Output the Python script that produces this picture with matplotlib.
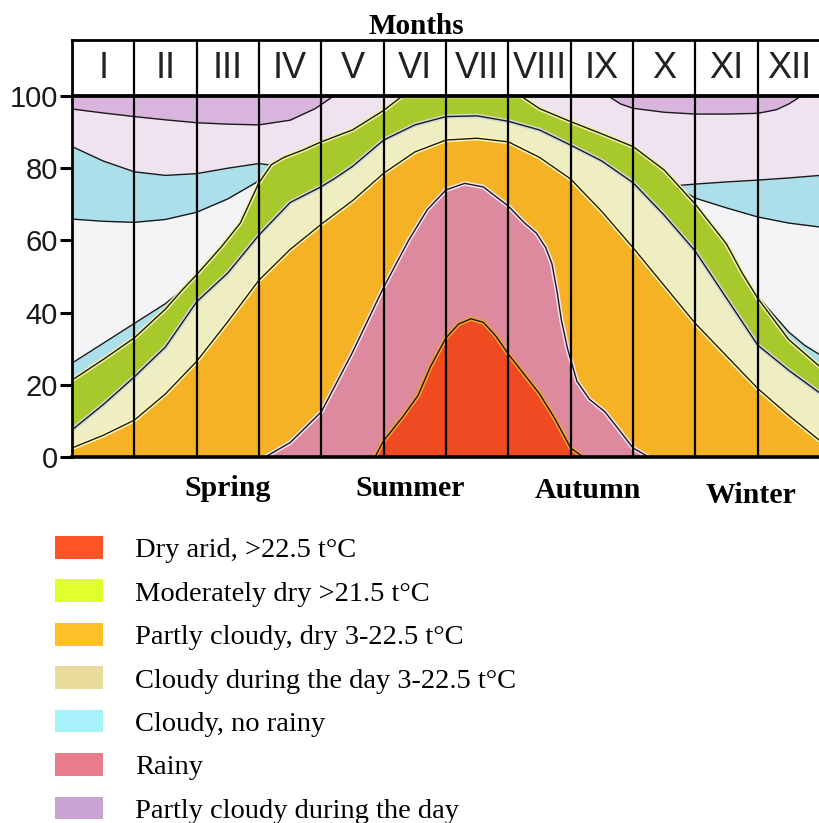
import numpy as np
import matplotlib
matplotlib.use('Agg')
import matplotlib.pyplot as plt
from matplotlib.patches import Patch
import matplotlib.transforms as mtransforms

months = ['I', 'II', 'III', 'IV', 'V', 'VI', 'VII', 'VIII', 'IX', 'X', 'XI', 'XII']
seasons = ['Spring', 'Summer', 'Autumn', 'Winter']
season_x = [2.5, 5.43, 8.28, 10.9]
season_dy = [0, 0, -0.006, -0.02]

# upper boundary of each zone (% of time)
red_x = [4.86, 5.0, 5.3, 5.55, 5.75, 6.0, 6.2, 6.4, 6.6, 6.8, 7.0, 7.25, 7.5, 7.75, 8.0, 8.2]
red_y = [0, 4.5, 11, 17, 25, 33, 36.8, 38.3, 37.3, 33.5, 28.5, 23, 17.5, 10.5, 2.5, 0]

pink_x = [3.1, 3.5, 4.0, 4.5, 5.0, 5.4, 5.7, 6.0, 6.3, 6.6, 7.0, 7.25, 7.45, 7.6, 7.7, 7.78,
          7.85, 7.95, 8.1, 8.3, 8.55, 8.8, 9.0, 9.25]
pink_y = [0, 4, 12.5, 29, 47, 60, 68.5, 74, 75.8, 74.8, 69.5, 65, 62, 58, 53.5, 46,
          38, 30, 21, 16, 12.5, 7, 2.5, 0]

orange_x = [0, 0.5, 1, 1.5, 2, 2.5, 3, 3.5, 4, 4.5, 5, 5.5, 6, 6.5, 7, 7.5, 8, 8.5,
            9, 9.5, 10, 10.5, 11, 11.5, 12]
orange_y = [2.5, 6, 10.2, 17.5, 26.5, 37.5, 49, 57.5, 64.5, 71, 78.6, 84.5, 87.8, 88.3,
            87.3, 83, 77, 68, 58, 47.5, 37, 28, 19, 11.5, 4.5]

pale_x = [0, 0.5, 1, 1.5, 2, 2.5, 3, 3.5, 4, 4.2, 4.5, 5, 5.5, 6, 6.5, 7, 7.5, 8,
          8.5, 9, 9.5, 10, 10.5, 11, 11.5, 12]
pale_y = [7.5, 14.5, 22.2, 30.5, 43, 51, 61.5, 70.5, 74.9, 77, 80.5, 87.8, 92, 94.3,
          94.5, 93, 90.6, 86.4, 82, 76, 67, 57, 44, 31, 24, 17.7]

green_x = [0, 0.5, 1, 1.5, 1.77, 2, 2.4, 2.7, 3, 3.2, 3.4, 3.7, 4, 4.5, 5, 5.3, 6, 7, 7.2,
           7.5, 8, 8.5, 9, 9.5, 10, 10.5, 10.75, 11, 11.5, 12]
green_y = [21.3, 27, 33, 41, 46.3, 50.5, 58.3, 64.8, 76, 81, 83, 85, 87.3, 90.6, 96, 100,
           100, 100, 100, 96.5, 92.9, 89.5, 86, 79.5, 70, 59, 51, 44, 32.5, 25]

# cloudy, no rainy: two thin wedges low and two bands high
blue_lo_left_x = [0, 0.5, 1, 1.5, 1.77]
blue_lo_left_y = [26, 31.5, 37, 42.5, 46.3]
blue_lo_right_x = [10.95, 11.25, 11.5, 11.75, 12]
blue_lo_right_y = [45.5, 39.5, 34.6, 31, 28.3]

blue_hi_left_x = [0, 0.5, 1, 1.5, 2, 2.5, 3, 3.2]
blue_hi_left_top = [86, 82, 79, 78, 78.5, 80, 81.3, 80.8]
blue_hi_left_bot = [65.9, 65.3, 65, 65.8, 67.8, 71.5, 76.5, 80.8]
blue_hi_right_x = [9.72, 10, 10.5, 11, 11.5, 12]
blue_hi_right_top = [75.2, 75.6, 76.2, 76.7, 77.3, 78]
blue_hi_right_bot = [74.5, 71.7, 69, 66.5, 64.8, 63.7]

# partly cloudy during the day: band under the top edge
purple_left_x = [0, 0.5, 1, 1.5, 2, 2.5, 3, 3.5, 3.9, 4.2]
purple_left_y = [96.4, 95.3, 94.3, 93.4, 92.6, 92.2, 92, 93.3, 96.5, 100]
purple_right_x = [8.6, 8.8, 9, 9.5, 10, 10.5, 11, 11.3, 11.5, 11.7]
purple_right_y = [100, 97.8, 96.6, 95.5, 95, 95, 95.2, 96.2, 97.8, 100]

legend_labels = ['Dry arid, >22.5 t°C', 'Moderately dry >21.5 t°C', 'Partly cloudy, dry 3-22.5 t°C',
                 'Cloudy during the day 3-22.5 t°C', 'Cloudy, no rainy', 'Rainy',
                 'Partly cloudy during the day']
legend_colors = ['#FF5526', '#E1FF2B', '#FFC125', '#E8DB9C', '#A6F1FA', '#E87C8D', '#C9A2D3']

c_red = '#F04A22'
c_pink = '#DE8A9E'
c_orange = '#F4B224'
c_pale = '#EFEDC2'
c_green = '#A8C92C'
c_blue = '#ABE0EA'
c_purple = '#D9B5DD'
c_lav = '#EEE3EF'
c_white = '#F4F4F7'

serif = 'Liberation Serif'
sans = 'Liberation Sans'

fig = plt.figure(figsize=(8.2, 8.23), dpi=100)
ax = fig.add_axes([72 / 820, 1 - 457 / 823, 748 / 820, 361 / 823])
ax.set_facecolor(c_lav)
ax.set_xlim(0, 12)
ax.set_ylim(0, 100)

# background zones
ax.fill_between(blue_hi_left_x, 0, blue_hi_left_bot, color=c_white, lw=0)
ax.fill_between(blue_hi_right_x, 0, blue_hi_right_bot, color=c_white, lw=0)
ax.fill_between(blue_hi_left_x, blue_hi_left_bot, blue_hi_left_top, color=c_blue, lw=0)
ax.fill_between(blue_hi_right_x, blue_hi_right_bot, blue_hi_right_top, color=c_blue, lw=0)
ax.fill_between(purple_left_x, purple_left_y, 100, color=c_purple, lw=0)
ax.fill_between(purple_right_x, purple_right_y, 100, color=c_purple, lw=0)
ax.fill_between(blue_lo_left_x, 0, blue_lo_left_y, color=c_blue, lw=0)
ax.fill_between(blue_lo_right_x, 0, blue_lo_right_y, color=c_blue, lw=0)

# nested zones, outer first
ax.fill_between(green_x, 0, green_y, color=c_green, lw=0)
ax.fill_between(pale_x, 0, pale_y, color=c_pale, lw=0)
ax.fill_between(orange_x, 0, orange_y, color=c_orange, lw=0)
ax.fill_between(pink_x, 0, pink_y, color=c_pink, lw=0)
ax.fill_between(red_x, 0, red_y, color=c_red, lw=0)

# outlines
thin = [(purple_left_x, purple_left_y), (purple_right_x, purple_right_y),
        (blue_hi_left_x, blue_hi_left_top), (blue_hi_left_x, blue_hi_left_bot),
        (blue_hi_right_x, blue_hi_right_top), (blue_hi_right_x, blue_hi_right_bot),
        (blue_lo_left_x, blue_lo_left_y), (blue_lo_right_x, blue_lo_right_y)]
for xs, ys in thin:
    ax.plot(xs, ys, color='#1a1a1a', lw=1.0, zorder=3)

haloed = [(green_x, green_y, '#F2F2A0'), (pale_x, pale_y, '#D0D8D8'),
          (orange_x, orange_y, '#FFF8B0'), (pink_x, pink_y, '#F6E0F0'), (red_x, red_y, '#F5A030')]
for xs, ys, hc in haloed:
    ax.plot(xs, ys, color=hc, lw=3.2, zorder=3, solid_capstyle='butt')
    ax.plot(xs, ys, color='#1a1a1a', lw=1.0, zorder=4)

ax.vlines(np.arange(1, 12), 0, 100, color='black', lw=1.6, zorder=5)

ax.spines['right'].set_visible(False)
ax.spines['left'].set_linewidth(2)
ax.spines['top'].set_linewidth(2)
ax.spines['bottom'].set_linewidth(2.6)
for s in ax.spines.values():
    s.set_zorder(6)

ax.set_xticks([])
ax.set_yticks([0, 20, 40, 60, 80, 100])
ax.tick_params(axis='y', length=9, width=2.2, pad=1, labelsize=21, labelcolor='#1a1a1a')
for lab in ax.get_yticklabels():
    lab.set_family(sans)

trans = mtransforms.blended_transform_factory(ax.transData, ax.transAxes)
for sx, name, dy in zip(season_x, seasons, season_dy):
    ax.text(sx, -0.086 + dy, name, transform=trans, ha='center', va='center',
            family=serif, fontweight='bold', fontsize=21.5)

# month header row
hx = fig.add_axes([72 / 820, 1 - 95 / 823, 748 / 820, 55 / 823])
hx.set_xlim(0, 12)
hx.set_ylim(0, 1)
hx.set_xticks([])
hx.set_yticks([])
hx.spines['right'].set_visible(False)
for s in ['top', 'left', 'bottom']:
    hx.spines[s].set_linewidth(2)
hx.vlines(np.arange(1, 12), 0, 1, color='black', lw=1.6)
for i, m in enumerate(months):
    hx.text(i + 0.5, 0.48, m, ha='center', va='center', family=sans, fontsize=26, color='#222222')

fig.text(416 / 820, 1 - 26 / 823, 'Months', ha='center', va='center',
         family=serif, fontweight='bold', fontsize=21)

handles = [Patch(facecolor=c, edgecolor='none') for c in legend_colors]
fig.legend(handles, legend_labels, loc='upper left', bbox_to_anchor=(55 / 820, 1 - 536 / 823),
           frameon=False, prop={'family': serif, 'size': 20.5}, handlelength=1.7,
           handleheight=0.85, handletextpad=1.12, labelspacing=0.57, borderpad=0,
           borderaxespad=0)

fig.savefig('out.png', dpi=100, facecolor='white')
